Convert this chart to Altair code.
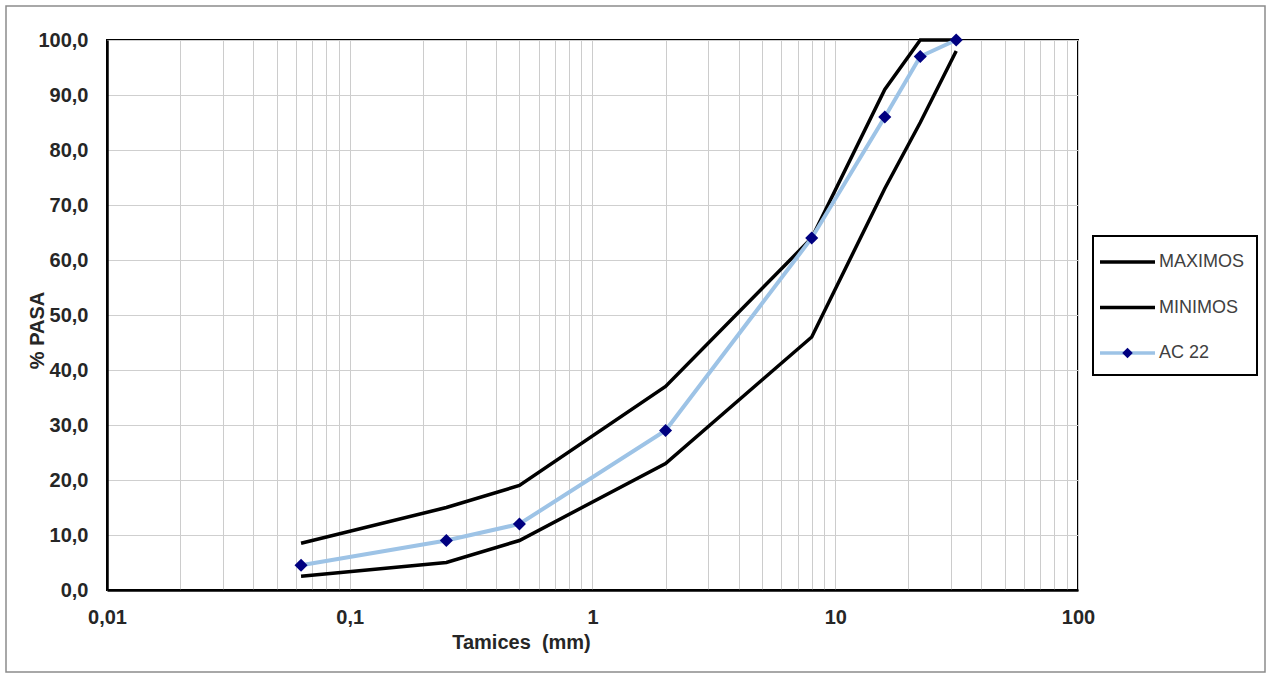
import altair as alt
import pandas as pd

sizes = [0.063, 0.25, 0.5, 2, 8, 16, 22.4, 31.5]
maximos = [8.5, 15, 19, 37, 64, 91, 100, 100]
minimos = [2.5, 5, 9, 23, 46, 73, 85, 98]
ac22 = [4.5, 9, 12, 29, 64, 86, 97, 100]

series_names = ["MAXIMOS", "MINIMOS", "AC 22"]
series_colors = ["#000000", "#000000", "#9DC3E6"]
marker_color = "#000080"

x_ticks = [0.01, 0.1, 1, 10, 100]
x_labels = ["0,01", "0,1", "1", "10", "100"]
x_grid = [round(m * 10 ** k, 6) for k in range(-2, 2) for m in range(1, 10)] + [100]
y_grid = list(range(0, 101, 5))

rows = []
for name, vals in zip(series_names, [maximos, minimos, ac22]):
    for i, (s, v) in enumerate(zip(sizes, vals)):
        rows.append({"serie": name, "tamiz": s, "pasa": v, "orden": i})
df = pd.DataFrame(rows)
legend_df = pd.DataFrame({"serie": series_names})

FONT = "Liberation Sans"

x_label_expr = " : ".join(
    f"datum.value == {t} ? '{l}'" for t, l in zip(x_ticks, x_labels)
) + " : ''"

x_enc = alt.X(
    "tamiz:Q",
    scale=alt.Scale(type="log", domain=[0.01, 100], nice=False),
    axis=alt.Axis(
        values=x_grid, labelExpr=x_label_expr, title="Tamices \u00a0(mm)",
        grid=True, gridColor="#cccccc", ticks=False, labelFlush=False,
        labelOverlap=False, labelPadding=17, titleX=414, titleY=58,
        titleAnchor="start", titleAlign="center", titleBaseline="alphabetic",
    ),
)
y_enc = alt.Y(
    "pasa:Q",
    scale=alt.Scale(domain=[0, 100], nice=False),
    axis=alt.Axis(
        values=y_grid,
        labelExpr="datum.value % 10 == 0 ? replace(format(datum.value, '.1f'), '.', ',') : ''",
        title="% PASA", grid=True,
        gridColor={"condition": {"test": "datum.value % 10 === 0", "value": "#cfcfcf"}, "value": "#e8e8e8"},
        ticks=False, labelOverlap=False, labelPadding=19,
        titleAngle=270, titleX=-70, titleY=290, titleAlign="center", titleBaseline="middle",
    ),
)

color_scale = alt.Scale(domain=series_names, range=series_colors)
base = alt.Chart(df)

bounds = base.transform_filter("datum.serie != 'AC 22'").mark_line(strokeWidth=3.5, clip=False).encode(
    x=x_enc, y=y_enc,
    color=alt.Color("serie:N", scale=color_scale, legend=None),
    order="orden:Q",
)
ac_line = base.transform_filter("datum.serie == 'AC 22'").mark_line(strokeWidth=4, clip=False).encode(
    x="tamiz:Q", y="pasa:Q", color=alt.Color("serie:N", scale=color_scale, legend=None), order="orden:Q",
)
ac_points = base.transform_filter("datum.serie == 'AC 22'").mark_point(
    shape="diamond", filled=True, size=170, color=marker_color, opacity=1, clip=False
).encode(x="tamiz:Q", y="pasa:Q")

main = alt.layer(bounds, ac_line, ac_points)

# ---- legend box (entries placed by a point scale over the series names) ----
leg_y = alt.Y("serie:N", scale=alt.Scale(type="point", domain=series_names, range=[222, 313], padding=0), axis=None)
leg_base = alt.Chart(legend_df)

leg_box = alt.Chart(pd.DataFrame({"f": [0]})).mark_rect(
    fill="white", stroke="#000000", strokeWidth=2
).encode(x=alt.value(986), x2=alt.value(1150), y=alt.value(196), y2=alt.value(335))

leg_lines = leg_base.mark_rule(strokeWidth=3.5).encode(
    x=alt.value(993), x2=alt.value(1048), y=leg_y,
    color=alt.Color("serie:N", scale=color_scale, legend=None),
)
leg_marker = leg_base.transform_filter("datum.serie == 'AC 22'").mark_point(
    shape="diamond", filled=True, size=110, color=marker_color, opacity=1
).encode(x=alt.value(1020.5), y=leg_y)
leg_text = leg_base.mark_text(
    align="left", baseline="middle", font=FONT, fontSize=18, color="#404040"
).encode(x=alt.value(1052), y=leg_y, text="serie:N")

legend = alt.layer(leg_box, leg_lines, leg_marker, leg_text)

frame = alt.Chart(pd.DataFrame({"f": [0]})).mark_rect(
    fill="transparent", stroke="#8c8c8c", strokeWidth=1.5
).encode(x=alt.value(-101), x2=alt.value(1158), y=alt.value(-34), y2=alt.value(632))

chart = alt.layer(frame, main, legend).resolve_scale(y="independent").properties(
    width=971, height=550,
    autosize=alt.AutoSizeParams(type="none"),
    padding={"left": 107, "top": 40, "right": 193, "bottom": 87},
    background="white",
).configure_view(stroke="#000000", strokeWidth=2).configure_axis(
    labelFont=FONT, labelFontSize=20, labelFontWeight="bold", labelColor="#262626",
    titleFont=FONT, titleFontSize=20, titleFontWeight="bold", titleColor="#262626",
    domainColor="#000000", domainWidth=2.5, gridWidth=1,
)

chart.save("out.html", embed_options={"renderer": "svg", "actions": False})
